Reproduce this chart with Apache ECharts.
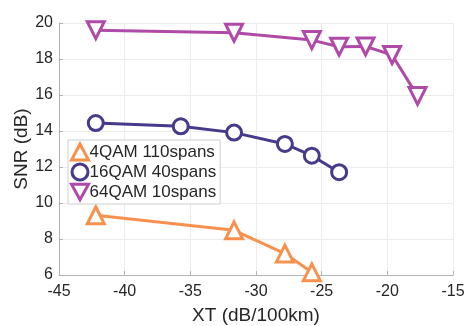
<!DOCTYPE html>
<html>
<head>
<meta charset="utf-8">
<script src="https://cdn.jsdelivr.net/npm/echarts@6/dist/echarts.min.js"></script>
<style>
html, body { margin: 0; padding: 0; background: #fff; }
#chart { width: 465px; height: 326px; }
</style>
</head>
<body>
<div id="chart"></div>
<script>
// values
var xt4 = [-42.2, -31.67, -27.8, -25.75];
var snr4 = [9.32, 8.48, 7.19, 6.15];

var xt16 = [-42.2, -35.73, -31.67, -27.8, -25.75, -23.67];
var snr16 = [14.44, 14.26, 13.91, 13.28, 12.63, 11.71];

var xt64 = [-42.2, -31.67, -25.75, -23.67, -21.66, -19.64, -17.7];
var snr64 = [19.6, 19.46, 19.05, 18.68, 18.7, 18.22, 15.95];

var names = ['4QAM 110spans', '16QAM 40spans', '64QAM 10spans'];
var colors = ['#f7914d', '#463a8c', '#b04aa8'];

function pairs(xs, ys) {
    var out = [];
    for (var i = 0; i < xs.length; i++) {
        out.push([xs[i], ys[i]]);
    }
    return out;
}

var font = 'Liberation Sans, Arial, Helvetica, sans-serif';
var downTri = 'path://M0,0 L10,0 L5,9 Z';

function lineSeries(name, color, data, symbol, rotate) {
    return {
        name: name,
        type: 'line',
        data: data,
        symbol: symbol,
        symbolSize: symbol === 'circle' ? 15 : 17,
        symbolRotate: rotate || 0,
        showAllSymbol: true,
        lineStyle: { color: color, width: 3 },
        itemStyle: { color: '#fff', borderColor: color, borderWidth: 3 },
        emphasis: { disabled: true },
        z: 3
    };
}

var option = {
    animation: false,
    backgroundColor: '#fff',
    textStyle: { fontFamily: font },
    grid: { left: 59, right: 12, top: 23, bottom: 51, containLabel: false, outerBoundsMode: 'none' },
    legend: {
        orient: 'vertical',
        left: 68,
        top: 140,
        itemWidth: 17,
        itemHeight: 16,
        itemGap: 0,
        padding: [2, 4, 2, 2],
        borderColor: '#cfcfcf',
        borderWidth: 1,
        backgroundColor: '#fff',
        textStyle: { fontSize: 17, lineHeight: 20, color: '#262626', fontFamily: font, padding: [0, 0, 0, -4] },
        data: [
            { name: names[0], icon: 'triangle', itemStyle: { color: '#fff', borderColor: colors[0], borderWidth: 3 } },
            { name: names[1], icon: 'circle', itemStyle: { color: '#fff', borderColor: colors[1], borderWidth: 3 } },
            { name: names[2], icon: downTri, itemStyle: { color: '#fff', borderColor: colors[2], borderWidth: 3 } }
        ]
    },
    xAxis: {
        type: 'value',
        min: -45,
        max: -15,
        interval: 5,
        name: 'XT (dB/100km)',
        nameLocation: 'middle',
        nameGap: 31,
        nameMoveOverlap: false,
        nameTextStyle: { fontSize: 19, color: '#262626', fontFamily: font },
        axisLine: { show: true, lineStyle: { color: '#b3b3b3', width: 1 } },
        axisTick: { show: true, inside: true, length: 4, lineStyle: { color: '#b3b3b3' } },
        axisLabel: { fontSize: 16, color: '#262626', margin: 9, fontFamily: font },
        splitLine: { show: true, lineStyle: { color: '#ececec', width: 1 } }
    },
    yAxis: {
        type: 'value',
        min: 6,
        max: 20,
        interval: 2,
        name: 'SNR (dB)',
        nameLocation: 'middle',
        nameGap: 28,
        nameMoveOverlap: false,
        nameTextStyle: { fontSize: 19, color: '#262626', fontFamily: font },
        axisLine: { show: true, lineStyle: { color: '#b3b3b3', width: 1 } },
        axisTick: { show: true, inside: true, length: 4, lineStyle: { color: '#b3b3b3' } },
        axisLabel: { fontSize: 16, color: '#262626', margin: 6, fontFamily: font },
        splitLine: { show: true, lineStyle: { color: '#ececec', width: 1 } }
    },
    series: [
        lineSeries(names[0], colors[0], pairs(xt4, snr4), 'triangle'),
        lineSeries(names[1], colors[1], pairs(xt16, snr16), 'circle'),
        lineSeries(names[2], colors[2], pairs(xt64, snr64), 'triangle', 180)
    ]
};

var chart = echarts.init(document.getElementById('chart'));
chart.setOption(option);
</script>
</body>
</html>
